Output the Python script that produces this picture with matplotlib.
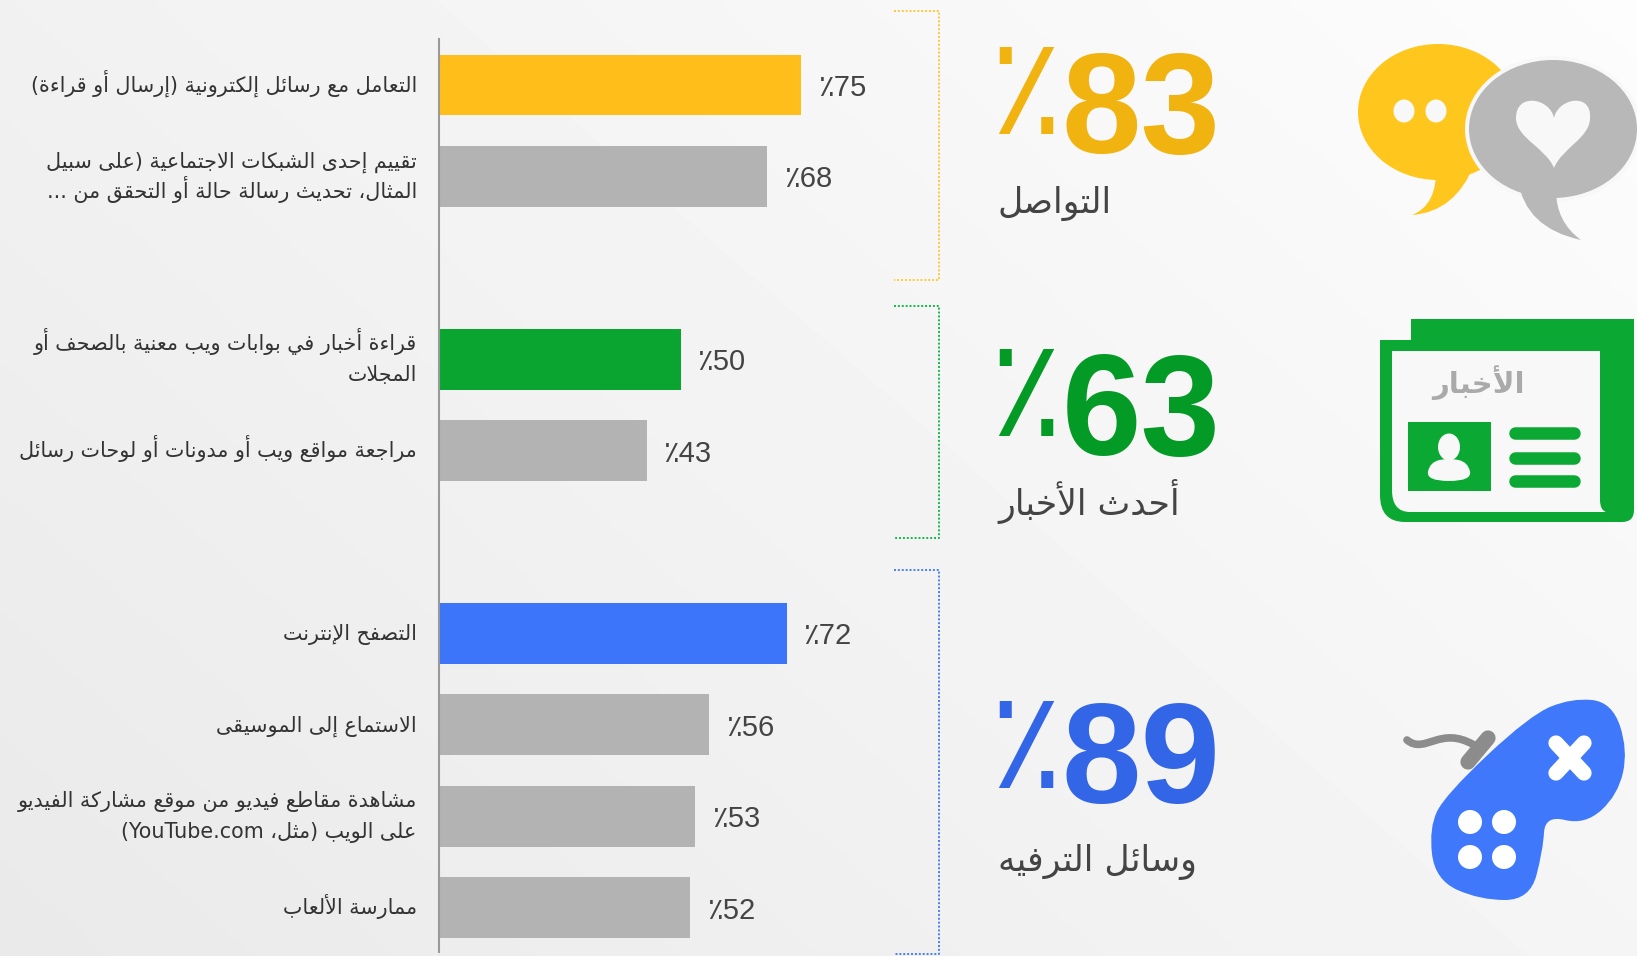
import re
import numpy as np
import matplotlib
matplotlib.use('Agg')
import matplotlib.pyplot as plt
from matplotlib.patches import Ellipse, Rectangle, PathPatch
from matplotlib.path import Path

# Chart data
activities = ["التعامل مع رسائل إلكترونية (إرسال أو قراءة)",
              "تقييم إحدى الشبكات الاجتماعية (على سبيل\nالمثال، تحديث رسالة حالة أو التحقق من ...",
              "قراءة أخبار في بوابات ويب معنية بالصحف أو\nالمجلات",
              "مراجعة مواقع ويب أو مدونات أو لوحات رسائل",
              "التصفح الإنترنت",
              "الاستماع إلى الموسيقى",
              "مشاهدة مقاطع فيديو من موقع مشاركة الفيديو\nعلى الويب (مثل، YouTube.com)",
              "ممارسة الألعاب"]
rows = [0, 1, 3, 4, 6, 7, 8, 9]
values = [75, 68, 50, 43, 72, 56, 53, 52]
bar_colors = ['#FFBE1A', '#B3B3B3', '#0AA530', '#B3B3B3', '#3C74FA', '#B3B3B3', '#B3B3B3', '#B3B3B3']
group_totals = [83, 63, 89]
group_names = ["التواصل", "أحدث الأخبار", "وسائل الترفيه"]
group_colors = ['#F0B310', '#049A26', '#3366E6']
bracket_colors = ['#FFC83C', '#14B84A', '#4A7DF5']
news_word = "الأخبار"

# Arabic shaping, matplotlib draws glyphs one by one with no joining or bidi
forms = {'ء': (0xFE80, 1), 'آ': (0xFE81, 2), 'أ': (0xFE83, 2), 'ؤ': (0xFE85, 2), 'إ': (0xFE87, 2), 'ئ': (0xFE89, 4),
         'ا': (0xFE8D, 2), 'ب': (0xFE8F, 4), 'ة': (0xFE93, 2), 'ت': (0xFE95, 4), 'ث': (0xFE99, 4), 'ج': (0xFE9D, 4),
         'ح': (0xFEA1, 4), 'خ': (0xFEA5, 4), 'د': (0xFEA9, 2), 'ذ': (0xFEAB, 2), 'ر': (0xFEAD, 2), 'ز': (0xFEAF, 2),
         'س': (0xFEB1, 4), 'ش': (0xFEB5, 4), 'ص': (0xFEB9, 4), 'ض': (0xFEBD, 4), 'ط': (0xFEC1, 4), 'ظ': (0xFEC5, 4),
         'ع': (0xFEC9, 4), 'غ': (0xFECD, 4), 'ف': (0xFED1, 4), 'ق': (0xFED5, 4), 'ك': (0xFED9, 4), 'ل': (0xFEDD, 4),
         'م': (0xFEE1, 4), 'ن': (0xFEE5, 4), 'ه': (0xFEE9, 4), 'و': (0xFEED, 2), 'ى': (0xFEEF, 2), 'ي': (0xFEF1, 4)}
lam_alef = {'آ': 0xFEF5, 'أ': 0xFEF7, 'إ': 0xFEF9, 'ا': 0xFEFB}


def shape_line(line):
    out = []
    i = 0
    prev_joins = False
    while i < len(line):
        ch = line[i]
        if ch not in forms:
            out.append(ch)
            prev_joins = False
            i += 1
            continue
        if ch == 'ل' and i + 1 < len(line) and line[i + 1] in lam_alef:
            out.append(chr(lam_alef[line[i + 1]] + (1 if prev_joins else 0)))
            prev_joins = False
            i += 2
            continue
        base, n = forms[ch]
        next_ok = i + 1 < len(line) and line[i + 1] in forms
        if n == 4 and next_ok:
            out.append(chr(base + (3 if prev_joins else 2)))
            prev_joins = True
        else:
            out.append(chr(base + (1 if prev_joins and n > 1 else 0)))
            prev_joins = False
        i += 1
    vis = ''.join(out)[::-1]
    vis = vis.translate(str.maketrans('()', ')('))
    return re.sub(r'[A-Za-z0-9.]{2,}', lambda m: m.group(0)[::-1], vis)


def ar(text):
    return '\n'.join(shape_line(t) for t in text.split('\n'))


def smooth_patch(pts, **kw):
    # closed quadratic spline through the midpoints of the given outline
    pts = np.array(pts, float)
    mids = (pts + np.roll(pts, -1, axis=0)) / 2
    verts = [mids[-1]]
    codes = [Path.MOVETO]
    for p, m in zip(pts, mids):
        verts += [p, m]
        codes += [Path.CURVE3, Path.CURVE3]
    return PathPatch(Path(verts, codes), lw=0, **kw)


def curve_patch(verts, codes, **kw):
    return PathPatch(Path(verts, codes), lw=0, **kw)


M, L, Q, Z = Path.MOVETO, Path.LINETO, Path.CURVE3, Path.CLOSEPOLY

W, H = 1637, 956
fig = plt.figure(figsize=(W / 100, H / 100), dpi=100)

# Background and decorations, in pixel coordinates
bg = fig.add_axes([0, 0, 1, 1], zorder=0)
gx, gy = np.meshgrid(np.linspace(0, 1, 300), np.linspace(0, 1, 200))
shade = 0.945 + 0.045 * gx - 0.03 * gy
bg.imshow(shade, extent=[0, W, H, 0], cmap='gray', vmin=0, vmax=1, aspect='auto', interpolation='bilinear')
bg.set_xlim(0, W)
bg.set_ylim(H, 0)
bg.axis('off')

# Bars
ax = fig.add_axes([439 / W, 1 - 952 / H, 500 / W, (952 - 39) / H], zorder=1)
ax.patch.set_alpha(0)
ax.set_xlim(0, 500 / 4.83)
ax.set_ylim((952 - 85) / 91.4, (39 - 85) / 91.4)
bars = ax.barh(rows, values, height=0.665, color=bar_colors)
value_labels = ax.bar_label(bars, labels=[f"٪{v}" for v in values], padding=12, fontsize=21, color='#444444',
                            family=['Liberation Sans', 'DejaVu Sans'])
for t in value_labels:
    t.xyann = (12, -2.2)

# Category labels, one text per line so the line gap stays fixed
for row, name in zip(rows, activities):
    lines = name.split('\n')
    for j, line in enumerate(lines):
        drop = 6.5 + 31 * (j - (len(lines) - 1) / 2)
        ax.annotate(ar(line), xy=(0, row), xytext=(-16, -drop * 0.72), textcoords='offset points',
                    ha='right', va='baseline', fontsize=14.9, color='#333333')
ax.set_yticks([])
ax.set_xticks([])
for s in ['top', 'right', 'bottom']:
    ax.spines[s].set_visible(False)
ax.spines['left'].set_color('#999999')
ax.spines['left'].set_linewidth(1.5)

# Dotted brackets
bracket_spans = [(11, 280), (306, 538), (570, 954)]
for (y0, y1), c in zip(bracket_spans, bracket_colors):
    bg.plot([894, 939, 939, 894], [y0, y0, y1, y1], color=c, lw=1.4, ls=(0, (1, 1)))

# Big totals with their captions
percent_y = [96, 398, 750]
digit_y = [116, 418, 766]
caption_y = [203, 501, 862]
for total, name, col, py, dy, cy in zip(group_totals, group_names, group_colors, percent_y, digit_y, caption_y):
    bg.text(989, py, "٪", fontsize=98, color=col, ha='left', va='center', family='DejaVu Sans')
    bg.text(1141, dy, str(total), fontsize=103, color=col, ha='center', va='center',
            family='Liberation Sans', weight='bold')
    bg.text(998, cy, ar(name), fontsize=25, color='#444444', ha='left', va='center')

# Speech bubbles
yellow = '#FFC61E'
grey = '#B8B8B8'
bgc = '#F8F8F8'
bg.add_patch(Ellipse((1438, 112), 160, 136, color=yellow, lw=0))
bg.add_patch(curve_patch([(1436, 165), (1438, 205), (1412, 215), (1455, 212), (1474, 165), (1436, 165)],
                         [M, Q, Q, Q, Q, Z], color=yellow))
bg.add_patch(Ellipse((1553, 129), 176, 146, color=bgc, lw=0))
bg.add_patch(Ellipse((1553, 129), 168, 138, color=grey, lw=0))
bg.add_patch(curve_patch([(1518, 180), (1525, 228), (1581, 240), (1556, 222), (1556, 190), (1518, 180)],
                         [M, Q, Q, Q, Q, Z], color=grey))
bg.add_patch(PathPatch(Path([(1554, 168), (1546, 148), (1516, 138), (1516, 118), (1516, 92), (1550, 98), (1554, 118),
                             (1558, 98), (1592, 92), (1590, 118), (1590, 138), (1562, 148), (1554, 168)],
                            [M] + [Path.CURVE4] * 12), color=bgc, lw=0))
bg.add_patch(Ellipse((1404, 111), 21, 23, color=bgc, lw=0))
bg.add_patch(Ellipse((1436, 111), 21, 23, color=bgc, lw=0))

# Newspaper
green = '#0BA833'
bg.add_patch(curve_patch([(1380, 340), (1411, 340), (1411, 319), (1634, 319), (1634, 510), (1634, 522), (1622, 522),
                          (1405, 522), (1380, 522), (1380, 495), (1380, 340)],
                         [M, L, L, L, L, Q, Q, L, Q, Q, Z], color=green))
bg.add_patch(curve_patch([(1392, 351), (1600, 351), (1600, 500), (1600, 510), (1606, 512), (1410, 512), (1392, 512),
                          (1392, 490), (1392, 351)],
                         [M, L, L, Q, Q, L, Q, Q, Z], color=bgc))
bg.add_patch(Rectangle((1408, 422), 83, 69, color=green, lw=0))
bg.add_patch(Ellipse((1449, 447), 22, 27, color=bgc, lw=0))
bg.add_patch(smooth_patch([(1426, 481), (1430, 462), (1449, 458), (1468, 462), (1472, 481)], color=bgc))
for by in [433, 458, 481]:
    bg.plot([1515, 1574], [by, by], color=green, lw=9, solid_capstyle='round')
bg.text(1478, 383, ar(news_word), fontsize=21, color='#AAAAAA', ha='center', va='center', weight='bold')

# Gamepad
blue = '#3F78FA'
bg.add_patch(smooth_patch([(1572, 698), (1612, 702), (1628, 750), (1618, 795), (1585, 825), (1545, 815), (1543, 850),
                           (1530, 900), (1480, 900), (1435, 880), (1429, 828), (1445, 795), (1530, 715)], color=blue))
bg.plot([1556, 1584], [743, 773], color='white', lw=11, solid_capstyle='round')
bg.plot([1584, 1556], [743, 773], color='white', lw=11, solid_capstyle='round')
for dx, dy in [(1470, 822), (1504, 822), (1470, 857), (1504, 857)]:
    bg.add_patch(Ellipse((dx, dy), 24, 24, color='white', lw=0))
wire = Path([(1407, 740), (1425, 755), (1440, 725), (1474, 745)], [M, Path.CURVE4, Path.CURVE4, Path.CURVE4])
bg.add_patch(PathPatch(wire, fc='none', ec='#8C8C8C', lw=5.5, capstyle='round'))
bg.plot([1488, 1468], [738, 762], color='#8C8C8C', lw=11, solid_capstyle='round')

fig.savefig('out.png', dpi=100)
